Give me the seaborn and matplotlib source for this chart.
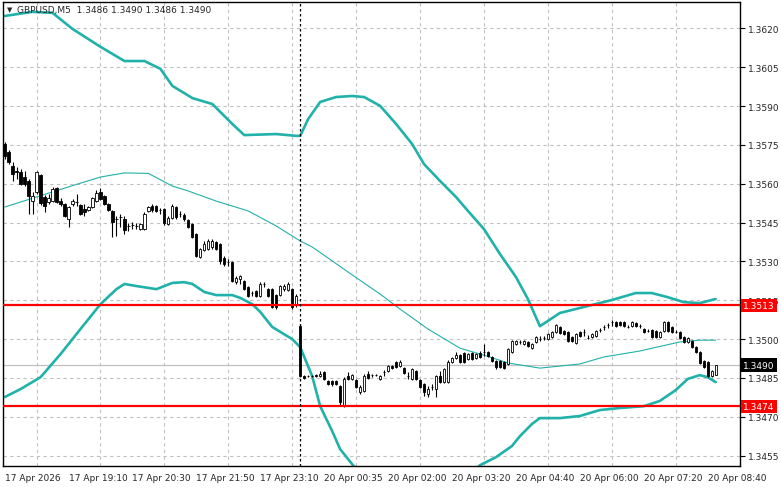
import numpy as np
import matplotlib
matplotlib.use("Agg")
import matplotlib.pyplot as plt
import matplotlib.transforms as mtransforms
import pandas as pd
import seaborn as sns

# GBPUSD M5 candles (bar 0 = 17 Apr 17:50)
opens = [
    1.35754, 1.35723, 1.35669, 1.35649, 1.35645, 1.35626, 1.35611, 1.35533, 1.35568, 1.35634,
    1.35549, 1.35530, 1.35533, 1.35584, 1.35533, 1.35522, 1.35464, 1.35522, 1.35530, 1.35518,
    1.35502, 1.35499, 1.35510, 1.35533, 1.35568, 1.35553, 1.35522, 1.35495, 1.35464, 1.35472,
    1.35464, 1.35437, 1.35441, 1.35437, 1.35425, 1.35425, 1.35495, 1.35514, 1.35514, 1.35499,
    1.35502, 1.35445, 1.35468, 1.35510, 1.35483, 1.35479, 1.35460, 1.35445, 1.35406, 1.35317,
    1.35344, 1.35348, 1.35356, 1.35375, 1.35367, 1.35313, 1.35298, 1.35298, 1.35220, 1.35232,
    1.35224, 1.35201, 1.35178, 1.35186, 1.35166, 1.35213, 1.35193, 1.35193, 1.35170, 1.35170,
    1.35193, 1.35190, 1.35193, 1.35132, 1.35050, 1.34857, 1.34857, 1.34857, 1.34861, 1.34857,
    1.34873, 1.34838, 1.34838, 1.34838, 1.34819, 1.34741, 1.34857, 1.34846, 1.34842, 1.34795,
    1.34799, 1.34865, 1.34861, 1.34861, 1.34846, 1.34873, 1.34877, 1.34896, 1.34911, 1.34896,
    1.34888, 1.34857, 1.34846, 1.34877, 1.34842, 1.34826, 1.34788, 1.34815, 1.34807, 1.34857,
    1.34834, 1.34834, 1.34911, 1.34927, 1.34938, 1.34946, 1.34923, 1.34946, 1.34927, 1.34946,
    1.34950, 1.34950, 1.34931, 1.34915, 1.34915, 1.34911, 1.34904, 1.34950, 1.34981, 1.34989,
    1.34981, 1.34989, 1.34965, 1.34989, 1.35000, 1.35004, 1.35000, 1.35008, 1.35027, 1.35047,
    1.35031, 1.35027, 1.35008, 1.34985, 1.35027, 1.35027, 1.35004, 1.35008, 1.35012, 1.35035,
    1.35047, 1.35054, 1.35066, 1.35066, 1.35066, 1.35066, 1.35047, 1.35050, 1.35062, 1.35050,
    1.35039, 1.35031, 1.35035, 1.35031, 1.35008, 1.35031, 1.35066, 1.35047, 1.35027, 1.35027,
    1.35008, 1.34989, 1.34992, 1.34969, 1.34950, 1.34915, 1.34911, 1.34857, 1.34860,
]
highs = [
    1.35761, 1.35731, 1.35684, 1.35665, 1.35657, 1.35649, 1.35618, 1.35568, 1.35649, 1.35638,
    1.35557, 1.35560, 1.35588, 1.35588, 1.35545, 1.35526, 1.35514, 1.35541, 1.35560, 1.35522,
    1.35522, 1.35514, 1.35549, 1.35576, 1.35584, 1.35557, 1.35526, 1.35499, 1.35475, 1.35483,
    1.35475, 1.35448, 1.35452, 1.35448, 1.35448, 1.35491, 1.35514, 1.35522, 1.35518, 1.35506,
    1.35506, 1.35475, 1.35522, 1.35514, 1.35495, 1.35487, 1.35464, 1.35448, 1.35410, 1.35352,
    1.35379, 1.35387, 1.35387, 1.35379, 1.35371, 1.35321, 1.35309, 1.35302, 1.35244, 1.35247,
    1.35228, 1.35205, 1.35186, 1.35190, 1.35220, 1.35220, 1.35197, 1.35197, 1.35174, 1.35209,
    1.35213, 1.35220, 1.35197, 1.35174, 1.35054, 1.34861, 1.34861, 1.34861, 1.34865, 1.34877,
    1.34877, 1.34842, 1.34842, 1.34842, 1.34822, 1.34853, 1.34873, 1.34865, 1.34846, 1.34822,
    1.34865, 1.34877, 1.34865, 1.34865, 1.34861, 1.34880, 1.34900, 1.34900, 1.34915, 1.34919,
    1.34892, 1.34873, 1.34888, 1.34880, 1.34846, 1.34830, 1.34819, 1.34826, 1.34861, 1.34877,
    1.34888, 1.34919, 1.34931, 1.34950, 1.34942, 1.34950, 1.34946, 1.34950, 1.34946, 1.34954,
    1.34981, 1.34954, 1.34934, 1.34919, 1.34919, 1.34915, 1.34965, 1.34996, 1.34996, 1.34996,
    1.34996, 1.34992, 1.34985, 1.35012, 1.35012, 1.35012, 1.35023, 1.35031, 1.35058, 1.35050,
    1.35035, 1.35031, 1.35012, 1.35023, 1.35031, 1.35039, 1.35016, 1.35023, 1.35035, 1.35043,
    1.35054, 1.35062, 1.35074, 1.35070, 1.35070, 1.35070, 1.35054, 1.35070, 1.35066, 1.35058,
    1.35043, 1.35039, 1.35039, 1.35035, 1.35031, 1.35070, 1.35070, 1.35050, 1.35035, 1.35031,
    1.35012, 1.35008, 1.34996, 1.34973, 1.34954, 1.34919, 1.34915, 1.34880, 1.34900,
]
lows = [
    1.35696, 1.35676, 1.35611, 1.35618, 1.35595, 1.35591, 1.35483, 1.35483, 1.35560, 1.35518,
    1.35491, 1.35522, 1.35530, 1.35526, 1.35514, 1.35472, 1.35433, 1.35514, 1.35514, 1.35479,
    1.35475, 1.35495, 1.35506, 1.35530, 1.35537, 1.35518, 1.35495, 1.35394, 1.35398, 1.35433,
    1.35406, 1.35417, 1.35425, 1.35425, 1.35421, 1.35421, 1.35491, 1.35491, 1.35491, 1.35483,
    1.35441, 1.35441, 1.35464, 1.35464, 1.35472, 1.35456, 1.35429, 1.35390, 1.35317, 1.35313,
    1.35340, 1.35344, 1.35348, 1.35344, 1.35290, 1.35282, 1.35282, 1.35220, 1.35213, 1.35213,
    1.35190, 1.35162, 1.35166, 1.35162, 1.35162, 1.35201, 1.35162, 1.35120, 1.35116, 1.35166,
    1.35186, 1.35186, 1.35116, 1.35124, 1.34853, 1.34846, 1.34853, 1.34853, 1.34853, 1.34853,
    1.34842, 1.34822, 1.34819, 1.34822, 1.34745, 1.34737, 1.34842, 1.34842, 1.34811, 1.34788,
    1.34795, 1.34846, 1.34853, 1.34857, 1.34842, 1.34857, 1.34873, 1.34884, 1.34888, 1.34892,
    1.34865, 1.34846, 1.34842, 1.34842, 1.34811, 1.34780, 1.34776, 1.34803, 1.34776, 1.34830,
    1.34830, 1.34830, 1.34907, 1.34923, 1.34907, 1.34907, 1.34919, 1.34919, 1.34923, 1.34927,
    1.34934, 1.34931, 1.34911, 1.34884, 1.34888, 1.34884, 1.34900, 1.34946, 1.34977, 1.34981,
    1.34977, 1.34969, 1.34962, 1.34985, 1.34992, 1.34996, 1.34996, 1.35004, 1.35023, 1.35019,
    1.35016, 1.34989, 1.34989, 1.34981, 1.35008, 1.35012, 1.35000, 1.35004, 1.35008, 1.35027,
    1.35035, 1.35043, 1.35050, 1.35047, 1.35050, 1.35047, 1.35043, 1.35047, 1.35047, 1.35043,
    1.35023, 1.35027, 1.35004, 1.35004, 1.35004, 1.35027, 1.35027, 1.35023, 1.35023, 1.35000,
    1.34985, 1.34985, 1.34965, 1.34946, 1.34904, 1.34888, 1.34853, 1.34853, 1.34860,
]
closes = [
    1.35707, 1.35684, 1.35638, 1.35645, 1.35599, 1.35599, 1.35553, 1.35553, 1.35645, 1.35526,
    1.35514, 1.35545, 1.35580, 1.35530, 1.35522, 1.35475, 1.35510, 1.35533, 1.35530, 1.35483,
    1.35491, 1.35510, 1.35545, 1.35564, 1.35541, 1.35522, 1.35499, 1.35452, 1.35464, 1.35472,
    1.35421, 1.35437, 1.35441, 1.35437, 1.35445, 1.35483, 1.35510, 1.35499, 1.35495, 1.35499,
    1.35448, 1.35468, 1.35514, 1.35472, 1.35483, 1.35464, 1.35433, 1.35394, 1.35321, 1.35348,
    1.35367, 1.35379, 1.35379, 1.35348, 1.35302, 1.35290, 1.35298, 1.35224, 1.35236, 1.35244,
    1.35193, 1.35166, 1.35178, 1.35166, 1.35213, 1.35213, 1.35166, 1.35124, 1.35124, 1.35205,
    1.35205, 1.35213, 1.35124, 1.35166, 1.34857, 1.34849, 1.34857, 1.34857, 1.34857, 1.34865,
    1.34846, 1.34826, 1.34826, 1.34826, 1.34757, 1.34846, 1.34846, 1.34861, 1.34815, 1.34815,
    1.34857, 1.34849, 1.34861, 1.34861, 1.34857, 1.34873, 1.34896, 1.34888, 1.34892, 1.34911,
    1.34869, 1.34857, 1.34884, 1.34846, 1.34815, 1.34795, 1.34807, 1.34815, 1.34857, 1.34834,
    1.34884, 1.34911, 1.34927, 1.34938, 1.34911, 1.34911, 1.34942, 1.34923, 1.34942, 1.34931,
    1.34950, 1.34934, 1.34915, 1.34892, 1.34892, 1.34888, 1.34962, 1.34992, 1.34992, 1.34989,
    1.34992, 1.34973, 1.34981, 1.35008, 1.35000, 1.35004, 1.35019, 1.35027, 1.35054, 1.35023,
    1.35019, 1.34992, 1.34992, 1.35019, 1.35012, 1.35027, 1.35004, 1.35019, 1.35031, 1.35035,
    1.35047, 1.35054, 1.35066, 1.35050, 1.35054, 1.35050, 1.35047, 1.35066, 1.35050, 1.35050,
    1.35027, 1.35031, 1.35008, 1.35008, 1.35027, 1.35066, 1.35031, 1.35027, 1.35027, 1.35004,
    1.34989, 1.35004, 1.34969, 1.34950, 1.34907, 1.34892, 1.34857, 1.34877, 1.34900,
]

# Bollinger-style envelope, sampled at bar indices
upper_bars = [0, 7, 12, 17, 24, 30, 35, 39, 42, 47, 52, 57, 60, 68, 73, 74, 76, 79, 83, 87,
              90, 94, 98, 102, 105, 109, 113, 116, 120, 124, 128, 131, 134, 136, 139, 145, 152,
              158, 162, 166, 170, 174, 178]
upper_band = [1.36248, 1.36264, 1.36260, 1.36198, 1.36129, 1.36074, 1.36074, 1.36044, 1.35978,
              1.35931, 1.35908, 1.35831, 1.35788, 1.35792, 1.35785, 1.35785, 1.35850, 1.35916,
              1.35935, 1.35939, 1.35935, 1.35901, 1.35831, 1.35754, 1.35676, 1.35611, 1.35549,
              1.35495, 1.35425, 1.35329, 1.35240, 1.35155, 1.35050, 1.35070, 1.35101, 1.35124,
              1.35151, 1.35178, 1.35178, 1.35162, 1.35143, 1.35139, 1.35155]
middle_bars = [0, 8, 16, 24, 30, 36, 42, 46, 53, 61, 68, 74, 77, 86, 94, 99, 106, 114, 120, 126,
               134, 144, 150, 159, 169, 174, 178]
middle_band = [1.35510, 1.35549, 1.35588, 1.35626, 1.35642, 1.35640, 1.35591, 1.35572, 1.35533,
               1.35495, 1.35437, 1.35379, 1.35356, 1.35259, 1.35174, 1.35116, 1.35039, 1.34965,
               1.34938, 1.34908, 1.34888, 1.34904, 1.34931, 1.34954, 1.34989, 1.34996, 1.34996]
lower_bars = [0, 4, 9, 14, 19, 24, 28, 30, 33, 38, 42, 45, 47, 50, 53, 57, 59, 62, 64, 67,
              72, 74, 77, 79, 82, 84, 88, 94, 104, 111, 119, 123, 127, 129, 132, 134, 139, 144,
              149, 154, 160, 164, 168, 171, 174, 176, 178]
lower_band = [1.34776, 1.34807, 1.34853, 1.34942, 1.35039, 1.35135, 1.35193, 1.35213, 1.35205,
              1.35193, 1.35217, 1.35220, 1.35213, 1.35182, 1.35170, 1.35170, 1.35159, 1.35135,
              1.35105, 1.35047, 1.35000, 1.34969, 1.34857, 1.34741, 1.34645, 1.34575, 1.34498,
              1.34401, 1.34343, 1.34401, 1.34513, 1.34544, 1.34587, 1.34625, 1.34672, 1.34695,
              1.34695, 1.34703, 1.34726, 1.34734, 1.34741, 1.34761, 1.34803, 1.34846, 1.34861,
              1.34853, 1.34834]

tick_bars = [0, 16, 32, 48, 64, 80, 96, 112, 128, 144, 160, 176]
tick_labels = ["17 Apr 2026", "17 Apr 19:10", "17 Apr 20:30", "17 Apr 21:50", "17 Apr 23:10",
               "20 Apr 00:35", "20 Apr 02:00", "20 Apr 03:20", "20 Apr 04:40", "20 Apr 06:00",
               "20 Apr 07:20", "20 Apr 08:40"]
price_ticks = [1.3455, 1.3470, 1.3485, 1.3500, 1.3515, 1.3530, 1.3545, 1.3560,
               1.3575, 1.3590, 1.3605, 1.3620]

resistance = 1.3513
support = 1.3474
bid = 1.3490
week_open_bar = 74
header = "GBPUSD,M5  1.3486 1.3490 1.3486 1.3490"

candles = pd.DataFrame({"open": opens, "high": highs, "low": lows, "close": closes})
candles["bar"] = np.arange(len(candles))
rising = candles["close"] >= candles["open"]
body = (candles["close"] - candles["open"]).abs().clip(lower=0.000012)

sns.set_style("white")
plt.rcParams["font.family"] = ["DejaVu Sans"]
fs = 6.5
teal = "#20b2aa"
gridc = "#c0c0c0"

fig = plt.figure(figsize=(7.81, 4.89), dpi=100)
ax = fig.add_axes([3 / 781, 22 / 489, 737 / 781, 464 / 489])

# grid
ax.set_axisbelow(True)
ax.set_xticks(np.arange(0, 185, 8), minor=True)
ax.grid(True, which="minor", axis="x", color=gridc, linestyle=(0, (3, 3)), linewidth=0.8)
ax.grid(True, which="major", axis="y", color=gridc, linestyle=(0, (3, 3)), linewidth=0.8)

# bid line
ax.axhline(bid, color=gridc, linewidth=0.9, zorder=1)

# envelope
sns.lineplot(x=upper_bars, y=upper_band, ax=ax, color=teal, linewidth=1.9, zorder=2)
sns.lineplot(x=lower_bars, y=lower_band, ax=ax, color=teal, linewidth=1.9, zorder=2)
sns.lineplot(x=middle_bars, y=middle_band, ax=ax, color=teal, linewidth=0.8, zorder=2)

# candles
ax.vlines(candles["bar"], candles["low"], candles["high"], color="black", linewidth=0.8, zorder=3)
dn = ~rising
ax.bar(candles["bar"][dn], body[dn], bottom=candles["close"][dn], width=0.55,
       color="black", edgecolor="black", linewidth=0.6, zorder=4)
ax.bar(candles["bar"][rising], body[rising], bottom=candles["open"][rising], width=0.55,
       color="white", edgecolor="black", linewidth=0.6, zorder=4)

# levels
ax.axhline(resistance, color="#ff0000", linewidth=1.6, zorder=5)
ax.axhline(support, color="#ff0000", linewidth=1.6, zorder=5)
ax.axvline(week_open_bar, color="black", linestyle=(0, (2, 2)), linewidth=0.9, zorder=5)

ax.set_xlim(-0.4, 184.1)
ax.set_ylim(1.34510, 1.36302)

# axes
ax.set_xticks(tick_bars)
ax.set_xticklabels(tick_labels, ha="left", fontsize=fs)
ax.tick_params(axis="x", which="major", direction="out", length=3, width=0.8, pad=2, color="black")
ax.tick_params(axis="x", which="minor", length=0)
ax.yaxis.tick_right()
ax.set_yticks(price_ticks)
ax.set_yticklabels([f"{p:.4f}" for p in price_ticks], fontsize=fs)
ax.tick_params(axis="y", direction="out", length=3.5, width=0.8, pad=2, color="black")
ax.set_xlabel("")
ax.set_ylabel("")
for s in ax.spines.values():
    s.set_color("black")
    s.set_linewidth(1.0)

# price tags on the right scale
tag_tr = mtransforms.blended_transform_factory(fig.transFigure, ax.transData)
for val, bg in [(resistance, "#ff0000"), (support, "#ff0000"), (bid, "black")]:
    ax.text(743 / 781, val, f"{val:.4f}", transform=tag_tr, ha="left", va="center",
            fontsize=fs, color="white", clip_on=False, zorder=10,
            bbox=dict(boxstyle="square,pad=0.25", fc=bg, ec="none"))

# header
fig.text(7 / 781, 1 - 10 / 489, "\u25bc", fontsize=5, va="center", ha="left")
fig.text(17 / 781, 1 - 10 / 489, header, fontsize=fs, va="center", ha="left")

fig.savefig("out.png", dpi=100)
